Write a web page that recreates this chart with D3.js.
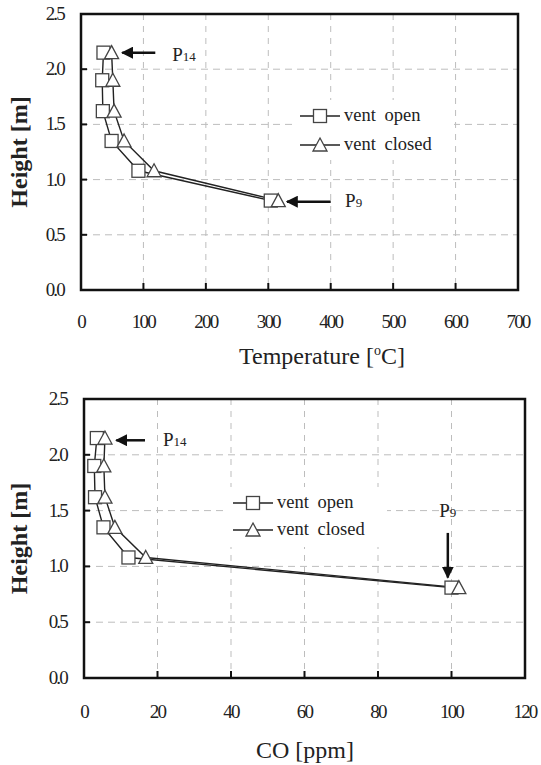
<!DOCTYPE html>
<html>
<head>
<meta charset="utf-8">
<script src="https://cdn.jsdelivr.net/npm/d3@7"></script>
<style>
  body { margin: 0; background: #fff; }
  text { font-family: "Liberation Serif", "Times New Roman", serif; fill: #222; }
</style>
</head>
<body>
<div id="chart"></div>
<script>
// heights of the measuring points (same for both runs)
const heights = [2.15, 1.9, 1.62, 1.35, 1.08, 0.81];

const tempOpen = [36, 34, 35, 49, 92, 304];
const tempClosed = [49, 51, 53, 69, 117, 316];

const coOpen = [3.5, 2.8, 3.0, 5.3, 12.1, 100];
const coClosed = [5.7, 5.4, 5.7, 8.4, 16.8, 102];

const seriesNames = ["vent open", "vent closed"];
const yTicks = [0, 0.5, 1.0, 1.5, 2.0, 2.5];
const tempTicks = [0, 100, 200, 300, 400, 500, 600, 700];
const coTicks = [0, 20, 40, 60, 80, 100, 120];

const svg = d3.select("#chart").append("svg")
  .attr("width", 541)
  .attr("height", 765);

const defs = svg.append("defs");
defs.append("marker")
  .attr("id", "head")
  .attr("viewBox", "0 0 10 10")
  .attr("refX", 9)
  .attr("refY", 5)
  .attr("markerWidth", 4.8)
  .attr("markerHeight", 4.8)
  .attr("markerUnits", "strokeWidth")
  .attr("orient", "auto")
  .append("path")
  .attr("d", "M0,0 L10,5 L0,10 z")
  .attr("fill", "#111");

let drawChart = (cfg) => {
  const x = d3.scaleLinear().domain(cfg.xDomain).range([cfg.left, cfg.right]);
  const y = d3.scaleLinear().domain([0, 2.5]).range([cfg.bottom, cfg.top]);
  const g = svg.append("g");

  // dashed grid
  g.selectAll(".gx")
    .data(cfg.xTicks.slice(1, -1))
    .enter()
    .append("line")
    .attr("x1", (d) => x(d)).attr("x2", (d) => x(d))
    .attr("y1", cfg.top).attr("y2", cfg.bottom)
    .attr("stroke", "#bdbdbd")
    .attr("stroke-dasharray", "6,6");
  g.selectAll(".gy")
    .data(yTicks.slice(1, -1))
    .enter()
    .append("line")
    .attr("y1", (d) => y(d)).attr("y2", (d) => y(d))
    .attr("x1", cfg.left).attr("x2", cfg.right)
    .attr("stroke", "#bdbdbd")
    .attr("stroke-dasharray", "7,5");

  // inward ticks
  g.selectAll(".tx")
    .data(cfg.xTicks.slice(1, -1))
    .enter()
    .append("line")
    .attr("x1", (d) => x(d)).attr("x2", (d) => x(d))
    .attr("y1", cfg.bottom).attr("y2", cfg.bottom - 7)
    .attr("stroke", "#111")
    .attr("stroke-width", 2);
  g.selectAll(".ty")
    .data(yTicks.slice(1, -1))
    .enter()
    .append("line")
    .attr("y1", (d) => y(d)).attr("y2", (d) => y(d))
    .attr("x1", cfg.left).attr("x2", cfg.left + 6)
    .attr("stroke", "#111")
    .attr("stroke-width", 2);

  // tick labels
  g.selectAll(".lx")
    .data(cfg.xTicks)
    .enter()
    .append("text")
    .attr("x", (d) => x(d))
    .attr("y", cfg.bottom + cfg.xLabelGap)
    .attr("text-anchor", "middle")
    .attr("font-size", 19)
    .attr("letter-spacing", -1.8)
    .text((d) => d);
  g.selectAll(".ly")
    .data(yTicks)
    .enter()
    .append("text")
    .attr("x", cfg.left - 17)
    .attr("y", (d) => y(d) + 6)
    .attr("text-anchor", "end")
    .attr("font-size", 19)
    .attr("letter-spacing", -1.8)
    .text((d) => d3.format(".1f")(d));

  // axis titles
  const xt = g.append("text")
    .attr("x", cfg.xTitleX)
    .attr("y", cfg.xTitleY)
    .attr("text-anchor", "middle")
    .attr("font-size", 24);
  cfg.xTitle.forEach((part) => {
    xt.append("tspan")
      .attr("font-size", part.sup ? 14 : 24)
      .attr("dy", part.sup ? -9 : part.after ? 9 : 0)
      .text(part.t);
  });
  g.append("text")
    .attr("transform", `translate(27,${(cfg.top + cfg.bottom) / 2}) rotate(-90)`)
    .attr("text-anchor", "middle")
    .attr("font-size", 24)
    .attr("font-weight", "bold")
    .text("Height [m]");

  // legend box
  g.append("rect")
    .attr("x", cfg.legend.x - 6).attr("y", cfg.legend.y - 16)
    .attr("width", 160).attr("height", 60)
    .attr("fill", "#fff");

  // series
  const series = [
    { name: seriesNames[0], vals: cfg.open, shape: "square" },
    { name: seriesNames[1], vals: cfg.closed, shape: "triangle" },
  ];
  const line = d3.line().x((d) => x(d[0])).y((d) => y(d[1]));

  let marker = (sel, shape) => {
    if (shape === "square") {
      sel.append("rect")
        .attr("x", -6.5).attr("y", -6.5)
        .attr("width", 13).attr("height", 13)
        .attr("fill", "#fff")
        .attr("stroke", "#444")
        .attr("stroke-width", 1.3);
    } else {
      sel.append("path")
        .attr("d", "M0,-7 L7,6 L-7,6 Z")
        .attr("fill", "#fff")
        .attr("stroke", "#444")
        .attr("stroke-width", 1.3);
    }
  };

  series.forEach((s) => {
    const pts = s.vals.map((v, i) => [v, heights[i]]);
    g.append("path")
      .attr("d", line(pts))
      .attr("fill", "none")
      .attr("stroke", "#222")
      .attr("stroke-width", 1.4);
  });
  series.forEach((s) => {
    const pts = s.vals.map((v, i) => [v, heights[i]]);
    g.selectAll(null)
      .data(pts)
      .enter()
      .append("g")
      .attr("transform", (d) => `translate(${x(d[0])},${y(d[1])})`)
      .each(function () { marker(d3.select(this), s.shape); });
  });

  // legend
  series.forEach((s, i) => {
    const ly = cfg.legend.y + i * cfg.legend.step;
    g.append("line")
      .attr("x1", cfg.legend.x).attr("x2", cfg.legend.x + 40)
      .attr("y1", ly).attr("y2", ly)
      .attr("stroke", "#222").attr("stroke-width", 1.4);
    const mg = g.append("g").attr("transform", `translate(${cfg.legend.x + 20},${ly})`);
    marker(mg, s.shape);
    g.append("text")
      .attr("x", cfg.legend.x + 44)
      .attr("y", ly + 5)
      .attr("font-size", 18.5)
      .attr("word-spacing", 4)
      .text(s.name);
  });

  // plot border
  g.append("rect")
    .attr("x", cfg.left).attr("y", cfg.top)
    .attr("width", cfg.right - cfg.left).attr("height", cfg.bottom - cfg.top)
    .attr("fill", "none")
    .attr("stroke", "#111")
    .attr("stroke-width", 2.5);

  // annotations
  cfg.notes.forEach((n) => {
    g.append("line")
      .attr("x1", x(n.from[0])).attr("y1", y(n.from[1]))
      .attr("x2", x(n.to[0])).attr("y2", y(n.to[1]))
      .attr("stroke", "#111")
      .attr("stroke-width", 2.5)
      .attr("marker-end", "url(#head)");
    const t = g.append("text")
      .attr("x", x(n.at[0])).attr("y", y(n.at[1]))
      .attr("text-anchor", n.anchor || "start")
      .attr("font-size", 19);
    t.append("tspan").text("P");
    t.append("tspan").attr("font-size", 13).text(n.sub);
  });
};

drawChart({
  xDomain: [0, 700],
  xTicks: tempTicks,
  left: 81, right: 518, top: 14, bottom: 290,
  xLabelGap: 38,
  xTitleX: 322,
  xTitleY: 364,
  xTitle: [{ t: "Temperature [" }, { t: "o", sup: true }, { t: "C]", after: true }],
  open: tempOpen,
  closed: tempClosed,
  legend: { x: 300, y: 116, step: 29 },
  notes: [
    { from: [119, 2.15], to: [66, 2.15], at: [146, 2.07], sub: "14" },
    { from: [400, 0.80], to: [330, 0.80], at: [423, 0.75], sub: "9" },
  ],
});

drawChart({
  xDomain: [0, 120],
  xTicks: coTicks,
  left: 84, right: 525, top: 399, bottom: 678,
  xLabelGap: 40,
  xTitleX: 305,
  xTitleY: 758,
  xTitle: [{ t: "CO [ppm]" }],
  open: coOpen,
  closed: coClosed,
  legend: { x: 233, y: 503, step: 27 },
  notes: [
    { from: [16.6, 2.13], to: [8.8, 2.13], at: [21.5, 2.08], sub: "14" },
    { from: [99, 1.30], to: [99, 0.90], at: [99, 1.44], sub: "9", anchor: "middle" },
  ],
});
</script>
</body>
</html>
